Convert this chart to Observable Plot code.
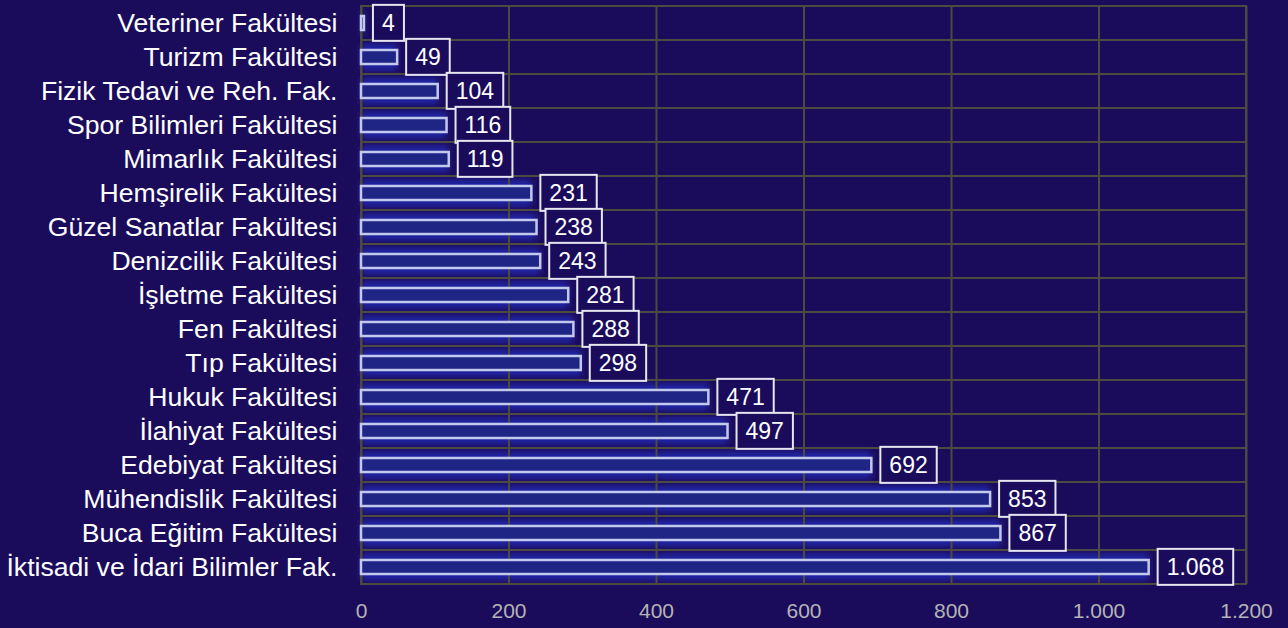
<!DOCTYPE html>
<html>
<head>
<meta charset="utf-8">
<script src="https://cdn.jsdelivr.net/npm/d3@7"></script>
<script src="https://cdn.jsdelivr.net/npm/@observablehq/plot@0.6"></script>
<style>
  html, body { margin: 0; padding: 0; background: #1b0c5b; }
  #chart { width: 1288px; height: 628px; }
</style>
</head>
<body>
<div id="chart"></div>
<script>
const faculties = [
  "Veteriner Fakültesi", "Turizm Fakültesi", "Fizik Tedavi ve Reh. Fak.",
  "Spor Bilimleri Fakültesi", "Mimarlık Fakültesi", "Hemşirelik Fakültesi",
  "Güzel Sanatlar Fakültesi", "Denizcilik Fakültesi", "İşletme Fakültesi",
  "Fen Fakültesi", "Tıp Fakültesi", "Hukuk Fakültesi", "İlahiyat Fakültesi",
  "Edebiyat Fakültesi", "Mühendislik Fakültesi", "Buca Eğitim Fakültesi",
  "İktisadi ve İdari Bilimler Fak."
];
const counts = [4, 49, 104, 116, 119, 231, 238, 243, 281, 288, 298, 471, 497, 692, 853, 867, 1068];
const xTicks = [0, 200, 400, 600, 800, 1000, 1200];

const data = faculties.map((f, i) => ({faculty: f, value: counts[i]}));
const trFormat = d3.formatLocale({decimal: ",", thousands: ".", grouping: [3], currency: ["", " ₺"]}).format(",");

const font = "'Liberation Sans', Arial, sans-serif";
const gridColor = "#4d4a40";

const chart = Plot.plot({
  width: 1288,
  height: 628,
  marginLeft: 361,
  marginRight: 42,
  marginTop: 6,
  marginBottom: 44,
  style: {background: "#1b0c5b", fontFamily: font, fontSize: "21px", color: "#ffffff"},
  x: {domain: [0, 1200], ticks: xTicks, tickFormat: trFormat, label: null},
  y: {domain: faculties, padding: 0, label: null},
  marks: [
    Plot.barX(data, {y: "faculty", x: "value", insetTop: 4, insetBottom: 4, fill: "#2128a8", ariaDescription: "glow"}),
    Plot.rect(data, {y: "faculty", x1: 0, x2: 1200, fill: "none", stroke: gridColor, strokeWidth: 2}),
    Plot.ruleX(xTicks, {stroke: gridColor, strokeWidth: 2}),
    Plot.barX(data, {y: "faculty", x: "value", insetTop: 10, insetBottom: 10, fill: "#1e2585", stroke: "#c3c9ec", strokeWidth: 2.5}),
    Plot.text(data, {y: "faculty", x: "value", text: d => trFormat(d.value), dx: 17.5, textAnchor: "start", fill: "#ffffff", fontSize: 23, ariaDescription: "vlabels"}),
    Plot.axisX({ticks: xTicks, tickFormat: trFormat, tickSize: 0, tickPadding: 19, fill: "#b4b4b4", fontSize: 21, label: null}),
    Plot.axisY({tickSize: 0, tickPadding: 24, fill: "#ffffff", fontSize: 26.6, label: null})
  ]
});

document.getElementById("chart").appendChild(chart);

const svgNS = "http://www.w3.org/2000/svg";
// glow filter
const defs = document.createElementNS(svgNS, "defs");
defs.innerHTML = '<filter id="glowf" x="-20%" y="-200%" width="140%" height="500%"><feGaussianBlur stdDeviation="3"/></filter>';
chart.insertBefore(defs, chart.firstChild);
const glow = chart.querySelector('g[aria-description="glow"]');
if (glow) { glow.setAttribute("filter", "url(#glowf)"); }

// boxes around value labels
const lbl = chart.querySelector('g[aria-description="vlabels"]');
if (lbl) {
  const boxes = document.createElementNS(svgNS, "g");
  if (lbl.getAttribute("transform")) boxes.setAttribute("transform", lbl.getAttribute("transform"));
  lbl.parentNode.insertBefore(boxes, lbl);
  lbl.querySelectorAll("text").forEach(t => {
    const b = t.getBBox();
    const r = document.createElementNS(svgNS, "rect");
    const padX = 9;
    const h = 36;
    const cy = b.y + b.height / 2;
    r.setAttribute("x", b.x - padX);
    r.setAttribute("y", cy - h / 2);
    r.setAttribute("width", b.width + 2 * padX);
    r.setAttribute("height", h);
    r.setAttribute("fill", "#1b0c5b");
    r.setAttribute("stroke", "#e6e6f0");
    r.setAttribute("stroke-width", 2);
    if (t.getAttribute("transform")) r.setAttribute("transform", t.getAttribute("transform"));
    boxes.appendChild(r);
  });
}
</script>
</body>
</html>
